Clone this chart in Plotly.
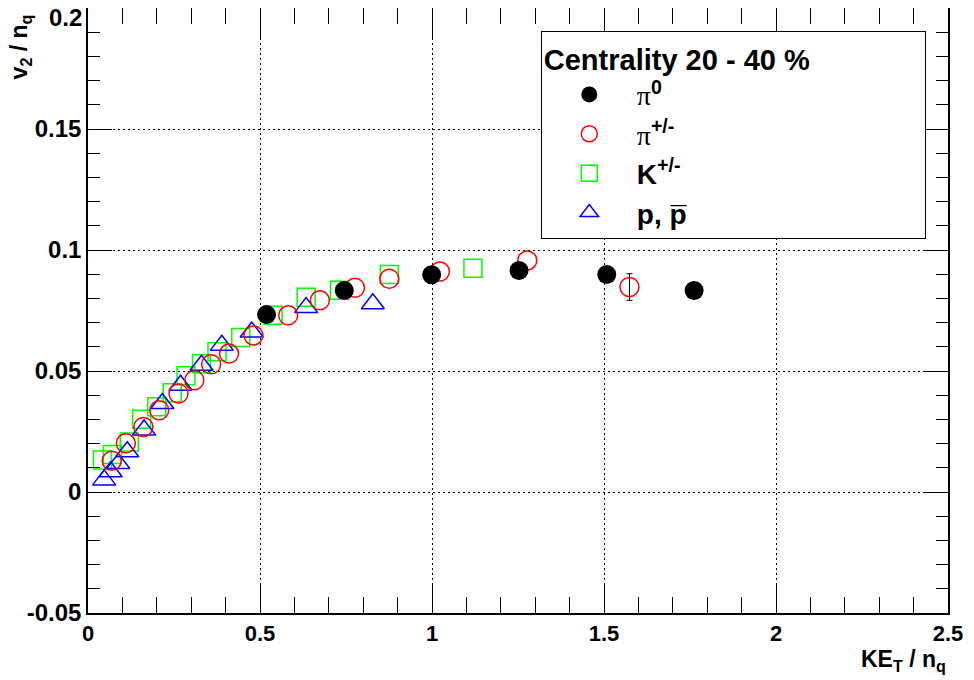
import plotly.graph_objects as go

# ── data ─────────────────────────────────────────────────────────────────────

pi0_x = [0.519, 0.745, 0.999, 1.253, 1.508, 1.762]
pi0_y = [0.0733, 0.0833, 0.0898, 0.0915, 0.0899, 0.0833]

pipm_x = [0.069, 0.11, 0.161, 0.207, 0.263, 0.309, 0.358, 0.41, 0.481, 0.582,
          0.674, 0.776, 0.876, 1.023, 1.277, 1.574]
pipm_y = [0.0129, 0.0201, 0.0269, 0.0338, 0.0407, 0.0462, 0.0528, 0.0572, 0.0647, 0.073,
          0.0792, 0.0844, 0.0881, 0.0911, 0.0957, 0.0847]
# only the last point has a visible error bar
pipm_err_last = [0.0055]

k_x = [0.042, 0.071, 0.12, 0.156, 0.2, 0.245, 0.285, 0.33, 0.375, 0.444,
       0.538, 0.634, 0.731, 0.876, 1.119]
k_y = [0.0132, 0.0155, 0.0207, 0.0301, 0.0352, 0.041, 0.048, 0.053, 0.058, 0.0638,
       0.073, 0.0805, 0.0834, 0.0899, 0.0925]

p_x = [0.047, 0.066, 0.088, 0.114, 0.163, 0.216, 0.269, 0.33, 0.389, 0.476, 0.634, 0.828]
p_y = [0.005, 0.0084, 0.0118, 0.0166, 0.0256, 0.0366, 0.0441, 0.0524, 0.0606, 0.0661,
       0.0762, 0.0778]

x_ticks = [0, 0.5, 1, 1.5, 2, 2.5]
x_labels = ["0", "0.5", "1", "1.5", "2", "2.5"]
y_ticks = [-0.05, 0, 0.05, 0.1, 0.15, 0.2]
y_labels = ["-0.05", "0", "0.05", "0.1", "0.15", "0.2"]

PI = '<span style="font-family:Liberation Serif">π</span>'
TICKFONT_Y = dict(family="Liberation Sans", size=24, color="black", weight="bold")

fig = go.Figure()

fig.add_trace(go.Scatter(
    x=k_x, y=k_y, mode="markers", name="<b>K<sup>+/-</sup></b>", legendrank=3,
    marker=dict(symbol="square-open", size=18, color="#00ff00", line=dict(width=1.5)),
))
fig.add_trace(go.Scatter(
    x=p_x, y=p_y, mode="markers", name="<b>p, p\u0305</b>", legendrank=4,
    marker=dict(symbol="triangle-up-open", size=20, color="#0000ff", line=dict(width=1.5)),
))
pipm_marker = dict(symbol="circle-open", size=19, color="#ff0000", line=dict(width=1.5))
fig.add_trace(go.Scatter(
    x=pipm_x[:-1], y=pipm_y[:-1], mode="markers", name=PI + "<sup><b>+/-</b></sup>",
    legendrank=2, legendgroup="pipm", marker=pipm_marker,
))
fig.add_trace(go.Scatter(
    x=pipm_x[-1:], y=pipm_y[-1:], mode="markers", legendgroup="pipm", showlegend=False,
    marker=pipm_marker,
    error_y=dict(type="data", array=pipm_err_last, color="black", thickness=1, width=3),
))
fig.add_trace(go.Scatter(
    x=pi0_x, y=pi0_y, mode="markers", name=PI + "<sup><b>0</b></sup>", legendrank=1,
    marker=dict(symbol="circle", size=19, color="black"),
))

axis_common = dict(
    showline=True, linecolor="black", linewidth=1.5, mirror="ticks",
    ticks="inside", tickcolor="black", tickwidth=1,
    showgrid=True, gridcolor="black", gridwidth=1, griddash="2px,3px",
    zeroline=False, automargin=False, ticklabeloverflow="allow",
)

fig.update_xaxes(
    range=[0, 2.5], tickvals=x_ticks, ticktext=x_labels, ticklen=30,
    tickfont=dict(family="Liberation Sans", size=22, color="black", weight="bold"),
    minor=dict(dtick=0.1, ticks="inside", ticklen=16, tickcolor="black", showgrid=False),
    **axis_common,
)
# top label is drawn as an annotation, nudged down so it stays on the canvas
fig.update_yaxes(
    range=[-0.05, 0.2], tickvals=y_ticks, ticktext=y_labels[:-1] + [""], ticklen=24,
    tickfont=TICKFONT_Y,
    minor=dict(dtick=0.01, ticks="inside", ticklen=12, tickcolor="black", showgrid=False),
    **axis_common,
)
fig.add_annotation(
    text=y_labels[-1], xref="paper", yref="y", x=0, y=y_ticks[-1],
    xanchor="right", yanchor="top", xshift=-4, yshift=6, showarrow=False,
    font=TICKFONT_Y,
)

fig.add_annotation(
    text="<b>KE<sub>T</sub> / n<sub>q</sub></b>", xref="paper", yref="paper",
    x=1, y=-0.052, xanchor="right", yanchor="top", showarrow=False,
    font=dict(family="Liberation Sans", size=23, color="black"),
)
fig.add_annotation(
    text="<b>v<sub>2</sub> / n<sub>q</sub></b>", xref="paper", yref="paper",
    x=-0.078, y=1.0, xanchor="center", yanchor="top", textangle=-90, yshift=-4,
    showarrow=False, font=dict(family="Liberation Sans", size=23, color="black"),
)

fig.update_layout(
    width=974, height=680,
    # page body adds an 8px offset, so margins are shifted to compensate
    margin=dict(l=80, r=34, t=0, b=75, autoexpand=False),
    plot_bgcolor="white", paper_bgcolor="white",
    font=dict(family="Liberation Sans", color="black"),
    legend=dict(
        x=0.5265, y=0.962, xanchor="left", yanchor="top",
        bgcolor="white", bordercolor="black", borderwidth=1, tracegroupgap=0,
        font=dict(family="Liberation Sans", size=28, color="black"),
        title=dict(text="<b>Centrality 20 - 40 %</b>" + "\u00a0" * 14,
                   font=dict(family="Liberation Sans", size=29, color="black")),
        itemwidth=85,
    ),
)

fig.write_html("out.html")
